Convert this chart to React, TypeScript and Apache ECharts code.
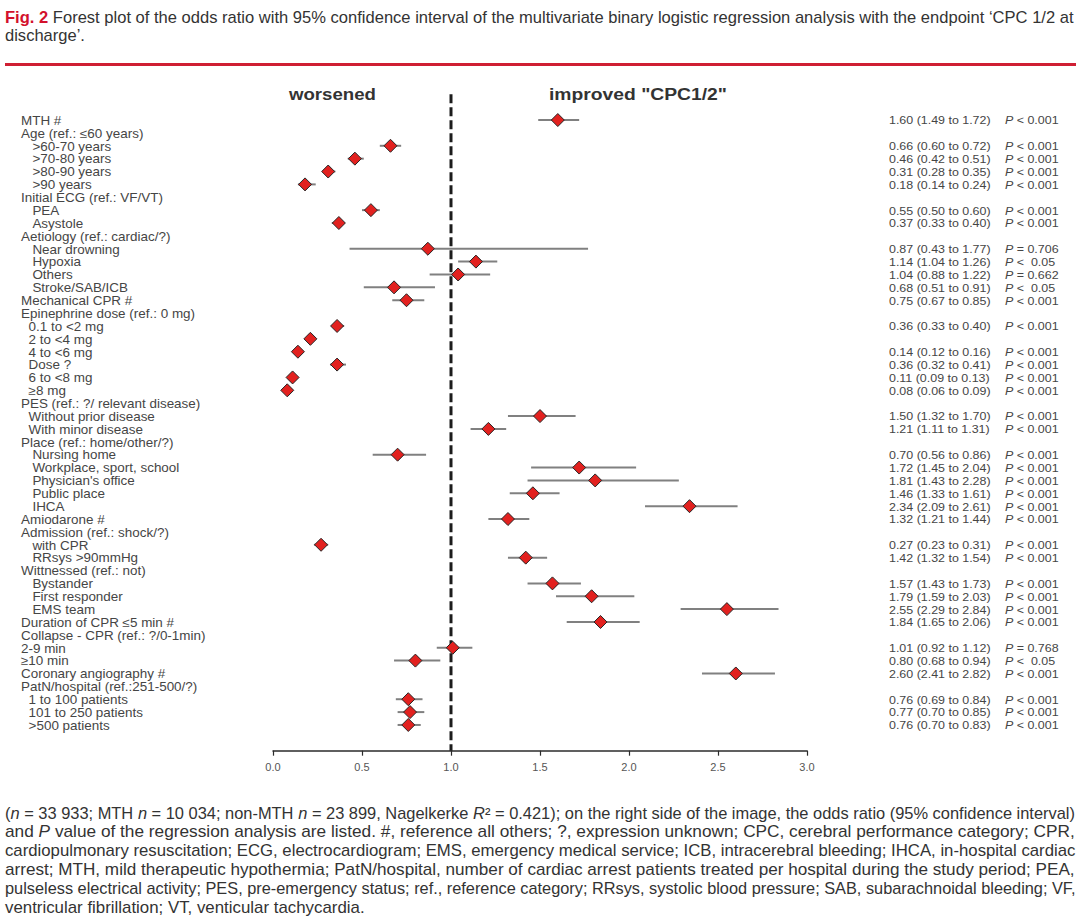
import React, { useEffect, useRef } from "react";
import * as echarts from "echarts";

// ---------- DATA ----------
const rowLabels: string[] = [
  "MTH #",
  "Age (ref.: ≤60 years)",
  "   >60-70 years",
  "   >70-80 years",
  "   >80-90 years",
  "   >90 years",
  "Initial ECG (ref.: VF/VT)",
  "   PEA",
  "   Asystole",
  "Aetiology (ref.: cardiac/?)",
  "   Near drowning",
  "   Hypoxia",
  "   Others",
  "   Stroke/SAB/ICB",
  "Mechanical CPR #",
  "Epinephrine dose (ref.: 0 mg)",
  "  0.1 to <2 mg",
  "  2 to <4 mg",
  "  4 to <6 mg",
  "  Dose ?",
  "  6 to <8 mg",
  "  ≥8 mg",
  "PES (ref.: ?/ relevant disease)",
  "  Without prior disease",
  "  With minor disease",
  "Place (ref.: home/other/?)",
  "   Nursing home",
  "   Workplace, sport, school",
  "   Physician's office",
  "   Public place",
  "   IHCA",
  "Amiodarone #",
  "Admission (ref.: shock/?)",
  "   with CPR",
  "   RRsys >90mmHg",
  "Wittnessed (ref.: not)",
  "   Bystander",
  "   First responder",
  "   EMS team",
  "Duration of CPR ≤5 min #",
  "Collapse - CPR (ref.: ?/0-1min)",
  "2-9 min",
  "≥10 min",
  "Coronary angiography #",
  "PatN/hospital (ref.:251-500/?)",
  "  1 to 100 patients",
  "  101 to 250 patients",
  "  >500 patients",
];

const oddsRatio: (number | null)[] = [
  1.6, null, 0.66, 0.46, 0.31, 0.18, null, 0.55, 0.37, null, 0.87, 1.14, 1.04, 0.68, 0.75,
  null, 0.36, 0.21, 0.14, 0.36, 0.11, 0.08, null, 1.5, 1.21, null, 0.7, 1.72, 1.81, 1.46, 2.34,
  1.32, null, 0.27, 1.42, null, 1.57, 1.79, 2.55, 1.84, null, 1.01, 0.8, 2.6, null, 0.76, 0.77, 0.76,
];

const ciLower: (number | null)[] = [
  1.49, null, 0.6, 0.42, 0.28, 0.14, null, 0.5, 0.33, null, 0.43, 1.04, 0.88, 0.51, 0.67,
  null, 0.33, 0.19, 0.12, 0.32, 0.09, 0.06, null, 1.32, 1.11, null, 0.56, 1.45, 1.43, 1.33, 2.09,
  1.21, null, 0.23, 1.32, null, 1.43, 1.59, 2.29, 1.65, null, 0.92, 0.68, 2.41, null, 0.69, 0.7, 0.7,
];

const ciUpper: (number | null)[] = [
  1.72, null, 0.72, 0.51, 0.35, 0.24, null, 0.6, 0.4, null, 1.77, 1.26, 1.22, 0.91, 0.85,
  null, 0.4, 0.23, 0.16, 0.41, 0.13, 0.09, null, 1.7, 1.31, null, 0.86, 2.04, 2.28, 1.61, 2.61,
  1.44, null, 0.31, 1.54, null, 1.73, 2.03, 2.84, 2.06, null, 1.12, 0.94, 2.82, null, 0.84, 0.85, 0.83,
];

// P value texts ("" = no printed text for that row)
const pValueText: string[] = [
  "< 0.001", "", "< 0.001", "< 0.001", "< 0.001", "< 0.001", "", "< 0.001", "< 0.001", "",
  "= 0.706", "<  0.05", "= 0.662", "<  0.05", "< 0.001", "", "< 0.001", "", "< 0.001", "< 0.001",
  "< 0.001", "< 0.001", "", "< 0.001", "< 0.001", "", "< 0.001", "< 0.001", "< 0.001", "< 0.001",
  "< 0.001", "< 0.001", "", "< 0.001", "< 0.001", "", "< 0.001", "< 0.001", "< 0.001", "< 0.001",
  "", "= 0.768", "<  0.05", "< 0.001", "", "< 0.001", "< 0.001", "< 0.001",
];

const xTicks = [0, 0.5, 1, 1.5, 2, 2.5, 3];
const referenceOR = 1;

const headerLeft = "worsened";
const headerRight = 'improved "CPC1/2"';

const titleLines: string[] = [
  "{r|Fig. 2} Forest plot of the odds ratio with 95% confidence interval of the multivariate binary logistic regression analysis with the endpoint ‘CPC 1/2 at",
  "discharge’.",
];

const captionLines: string[] = [
  "({i|n} = 33 933; MTH {i|n} = 10 034; non-MTH {i|n} = 23 899, Nagelkerke {i|R}² = 0.421); on the right side of the image, the odds ratio (95% confidence interval)",
  "and {i|P} value of the regression analysis are listed. #, reference all others; ?, expression unknown; CPC, cerebral performance category; CPR,",
  "cardiopulmonary resuscitation; ECG, electrocardiogram; EMS, emergency medical service; ICB, intracerebral bleeding; IHCA, in-hospital cardiac",
  "arrest; MTH, mild therapeutic hypothermia; PatN/hospital, number of cardiac arrest patients treated per hospital during the study period; PEA,",
  "pulseless electrical activity; PES, pre-emergency status; ref., reference category; RRsys, systolic blood pressure; SAB, subarachnoidal bleeding; VF,",
  "ventricular fibrillation; VT, venticular tachycardia.",
];

// ---------- STYLE ----------
const FONT = "'Liberation Sans', Arial, Helvetica, sans-serif";
const TEXT_COLOR = "#454545";

let measureCtx: CanvasRenderingContext2D | null = null;
function textWidth(text: string, size: number, weight = "normal", style = "normal") {
  if (!measureCtx) measureCtx = document.createElement("canvas").getContext("2d");
  if (!measureCtx) return text.length * size * 0.5;
  measureCtx.font = `${style} ${weight} ${size}px ${FONT}`;
  return measureCtx.measureText(text).width;
}
function richWidth(text: string, size: number, boldKey?: string) {
  let w = 0;
  const re = /\{(\w+)\|([^}]*)\}/g;
  let last = 0;
  let m: RegExpExecArray | null;
  while ((m = re.exec(text))) {
    w += textWidth(text.slice(last, m.index), size);
    w += textWidth(m[2], size, m[1] === boldKey ? "bold" : "normal", m[1] === "i" ? "italic" : "normal");
    last = m.index + m[0].length;
  }
  w += textWidth(text.slice(last), size);
  return w;
}

export default function App() {
  const ref = useRef<HTMLDivElement>(null);

  useEffect(() => {
    if (!ref.current) return;
    document.body.style.margin = "0";
    const chart = echarts.init(ref.current, undefined, { renderer: "svg" });

    const rowIdx = rowLabels.map((_, i) => i);
    const ciData = rowIdx
      .filter((i) => oddsRatio[i] !== null)
      .map((i) => [ciLower[i], ciUpper[i], i]);
    const pointData = rowIdx
      .filter((i) => oddsRatio[i] !== null)
      .map((i) => [oddsRatio[i], i]);
    const labelData = rowIdx.map((i) => [0, i]);
    const textData = rowIdx.filter((i) => pValueText[i] !== "").map((i) => [0, i]);

    const labelSize = 12.4;
    const labelScale = 1.085;
    const valueSize = 11.8;
    const valueScale = 1.055;
    const rowLine = 11;

    const graphics: any[] = [];
    const titleSize = 16;
    const titleTargets = [1070, 80];
    titleLines.forEach((line, k) => {
      const w = richWidth(line, titleSize, "r");
      graphics.push({
        type: "text",
        x: 5,
        y: 17 + k * 18,
        scaleX: titleTargets[k] / w,
        silent: true,
        style: {
          text: line,
          fill: "#333333",
          fontSize: titleSize,
          fontFamily: FONT,
          verticalAlign: "middle",
          align: "left",
          lineHeight: 16,
          rich: {
            r: { fill: "#d3112c", fontWeight: "bold", fontSize: titleSize, fontFamily: FONT, lineHeight: 16 },
          },
        },
      });
    });
    graphics.push({
      type: "line",
      silent: true,
      shape: { x1: 5, y1: 64.5, x2: 1076, y2: 64.5 },
      style: { stroke: "#cf1f33", lineWidth: 3 },
    });
    const headerSize = 17;
    [
      { t: headerLeft, x0: 289, x1: 376 },
      { t: headerRight, x0: 549, x1: 727 },
    ].forEach((h) => {
      const w = textWidth(h.t, headerSize, "bold");
      graphics.push({
        type: "text",
        x: h.x0,
        y: 94,
        scaleX: (h.x1 - h.x0) / w,
        silent: true,
        style: {
          text: h.t,
          fill: "#333333",
          fontSize: headerSize,
          fontWeight: "bold",
          fontFamily: FONT,
          verticalAlign: "middle",
        },
      });
    });
    const capSize = 16;
    captionLines.forEach((line, k) => {
      const w = richWidth(line, capSize);
      const last = k === captionLines.length - 1;
      const sx = (last ? 360 : 1071) / w;
      graphics.push({
        type: "text",
        x: 5,
        y: 813 + k * 18.8,
        scaleX: sx,
        silent: true,
        style: {
          text: line,
          fill: "#333333",
          fontSize: capSize,
          fontFamily: FONT,
          verticalAlign: "middle",
          lineHeight: 17,
          rich: {
            i: { fontStyle: "italic", fontSize: capSize, fontFamily: FONT, fill: "#333333", lineHeight: 17 },
          },
        },
      });
    });

    const option: any = {
      animation: false,
      backgroundColor: "#ffffff",
      grid: { left: 273, width: 534, top: 94.3, height: 656.4 },
      xAxis: {
        type: "value",
        min: 0,
        max: 3,
        interval: 0.5,
        axisLine: { onZero: false, lineStyle: { color: "#2b2b2b", width: 1.5 } },
        axisTick: { show: true, length: 5, lineStyle: { color: "#2b2b2b", width: 1.2 } },
        splitLine: { show: false },
        axisLabel: {
          margin: 11,
          fontSize: 11,
          fontFamily: FONT,
          color: "#555555",
          formatter: (v: number) => (xTicks.includes(v) ? v.toFixed(1) : ""),
        },
      },
      yAxis: { type: "value", inverse: true, min: -2, max: 49, show: false },
      graphic: graphics,
      series: [
        {
          type: "custom",
          name: "ci",
          z: 2,
          silent: true,
          data: ciData,
          encode: { x: [0, 1], y: 2 },
          renderItem: (params: any, api: any) => {
            const p1 = api.coord([api.value(0), api.value(2)]);
            const p2 = api.coord([api.value(1), api.value(2)]);
            return {
              type: "line",
              shape: { x1: p1[0], y1: p1[1], x2: p2[0], y2: p2[1] },
              style: { stroke: "#808080", lineWidth: 2 },
            };
          },
        },
        {
          type: "line",
          name: "reference",
          z: 3,
          silent: true,
          symbol: "none",
          data: [
            [referenceOR, -2],
            [referenceOR, 49],
          ],
          lineStyle: { color: "#1c1c1c", width: 3, type: [9, 4] },
        },
        {
          type: "scatter",
          name: "OR",
          z: 4,
          silent: true,
          symbol: "diamond",
          symbolSize: [13, 13],
          data: pointData,
          itemStyle: { color: "#e2211f", borderColor: "#262626", borderWidth: 1, opacity: 1 },
        },
        {
          type: "custom",
          name: "labels",
          z: 5,
          silent: true,
          data: labelData,
          encode: { x: 0, y: 1 },
          renderItem: (params: any, api: any) => {
            const i = api.value(1);
            const raw = rowLabels[i];
            const trimmed = raw.replace(/^ +/, "");
            const indent = (raw.length - trimmed.length) * 3.8;
            const pos = api.coord([0, i]);
            return {
              type: "text",
              x: 21 + indent,
              y: pos[1] + 0.5,
              scaleX: labelScale,
              style: {
                text: trimmed,
                fill: TEXT_COLOR,
                fontSize: labelSize,
                fontFamily: FONT,
                lineHeight: rowLine,
                align: "left",
                verticalAlign: "middle",
              },
            };
          },
        },
        {
          type: "custom",
          name: "values",
          z: 5,
          silent: true,
          data: textData,
          encode: { x: 0, y: 1 },
          renderItem: (params: any, api: any) => {
            const i = api.value(1);
            const pos = api.coord([0, i]);
            const orStr = `${(oddsRatio[i] as number).toFixed(2)} (${(ciLower[i] as number).toFixed(2)} to ${(ciUpper[i] as number).toFixed(2)})`;
            return {
              type: "group",
              children: [
                {
                  type: "text",
                  x: 889,
                  y: pos[1] + 0.5,
                  scaleX: valueScale,
                  style: {
                    text: orStr,
                    fill: TEXT_COLOR,
                    fontSize: valueSize,
                    fontFamily: FONT,
                    lineHeight: rowLine,
                    align: "left",
                    verticalAlign: "middle",
                  },
                },
                {
                  type: "text",
                  x: 1005,
                  y: pos[1] + 0.5,
                  scaleX: valueScale,
                  style: {
                    text: `{i|P} ${pValueText[i]}`,
                    fill: TEXT_COLOR,
                    fontSize: valueSize,
                    fontFamily: FONT,
                    lineHeight: rowLine,
                    align: "left",
                    verticalAlign: "middle",
                    rich: {
                      i: { fontStyle: "italic", fontSize: valueSize, fontFamily: FONT, fill: TEXT_COLOR, lineHeight: rowLine },
                    },
                  },
                },
              ],
            };
          },
        },
      ],
    };

    chart.setOption(option);
    return () => chart.dispose();
  }, []);

  return (
    <div
      ref={ref}
      style={{ position: "absolute", left: 0, top: 0, width: 1080, height: 917, background: "#fff" }}
    />
  );
}
